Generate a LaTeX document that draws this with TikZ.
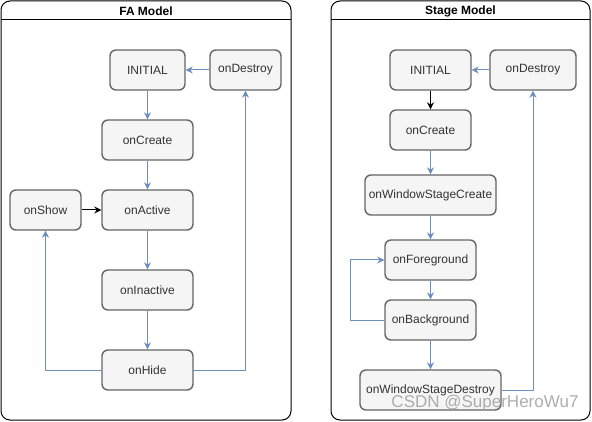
\documentclass[tikz,border=0pt]{standalone}
\usepackage{fontspec}
\setmainfont{Liberation Sans}
\usetikzlibrary{arrows.meta}
\definecolor{boxfill}{HTML}{F5F5F5}
\definecolor{boxline}{HTML}{666666}
\definecolor{boxtext}{HTML}{333333}
\definecolor{flow}{HTML}{6C8EBF}

\begin{document}
\begin{tikzpicture}[x=1pt,y=-1pt,line join=round,
  state/.style={draw=boxline,fill=boxfill,text=boxtext,line width=1.4pt,rounded corners=6pt,
    minimum height=40pt,inner sep=0pt,font=\fontsize{12}{14}\selectfont},
  flowline/.style={draw=flow,line width=1pt,-{Stealth[length=7pt,width=7pt]}},
  startline/.style={draw=black,line width=1pt,-{Stealth[length=7pt,width=7pt]}},
  lane/.style={draw=black,line width=1pt,rounded corners=9pt},
  lanetitle/.style={font=\bfseries\fontsize{12}{14}\selectfont}]
  \useasboundingbox (0,0) rectangle (592,422);
  % FA model lane
  \draw[lane] (1,1) rectangle (291,420);
  \draw[line width=1pt] (1,20) -- (291,20);
  \node[lanetitle] (faTitle) at (146,11) {FA Model};
  \node[state,minimum width=75pt] (faInitial) at (147.5,70) {INITIAL};
  \node[state,minimum width=71pt] (faDestroy) at (245.5,70) {onDestroy};
  \node[state,minimum width=91pt] (faCreate) at (147.5,140) {onCreate};
  \node[state,minimum width=71pt] (faShow) at (45.5,210) {onShow};
  \node[state,minimum width=91pt] (faActive) at (147.5,210) {onActive};
  \node[state,minimum width=91pt] (faInactive) at (147.5,290) {onInactive};
  \node[state,minimum width=91pt] (faHide) at (147.5,370) {onHide};
  \draw[flowline] (faDestroy) -- (faInitial);
  \draw[flowline] (faInitial) -- (faCreate);
  \draw[flowline] (faCreate) -- (faActive);
  \draw[startline] (faShow) -- (faActive);
  \draw[flowline] (faActive) -- (faInactive);
  \draw[flowline] (faInactive) -- (faHide);
  \draw[flowline] (faHide.west) -| (faShow.south);
  \draw[flowline] (faHide.east) -| (faDestroy.south);
  % Stage model lane
  \draw[lane] (331,1) rectangle (590,420);
  \draw[line width=1pt] (331,20) -- (590,20);
  \node[lanetitle] (stTitle) at (460.5,11) {Stage Model};
  \node[state,minimum width=81pt] (stInitial) at (430.5,70) {INITIAL};
  \node[state,minimum width=86pt] (stDestroy) at (533,70) {onDestroy};
  \node[state,minimum width=81pt] (stCreate) at (430.5,130) {onCreate};
  \node[state,minimum width=131pt] (stWinCreate) at (430.5,195) {onWindowStageCreate};
  \node[state,minimum width=91pt] (stFore) at (430.5,260) {onForeground};
  \node[state,minimum width=91pt] (stBack) at (430.5,320) {onBackground};
  \node[state,minimum width=141pt] (stWinDestroy) at (430.5,390) {onWindowStageDestroy};
  \draw[flowline] (stDestroy) -- (stInitial);
  \draw[startline] (stInitial) -- (stCreate);
  \draw[flowline] (stCreate) -- (stWinCreate);
  \draw[flowline] (stWinCreate) -- (stFore);
  \draw[flowline] (stFore) -- (stBack);
  \draw[flowline] (stBack) -- (stWinDestroy);
  \draw[flowline] (stBack.west) -- ++(-34,0) |- (stFore.west);
  \draw[flowline] (stWinDestroy.east) -| (stDestroy.south);
  \node[text=gray!75,opacity=0.85,font=\fontsize{17}{20}\selectfont] (mark) at (485,403) {CSDN @SuperHeroWu7};
\end{tikzpicture}
\end{document}
